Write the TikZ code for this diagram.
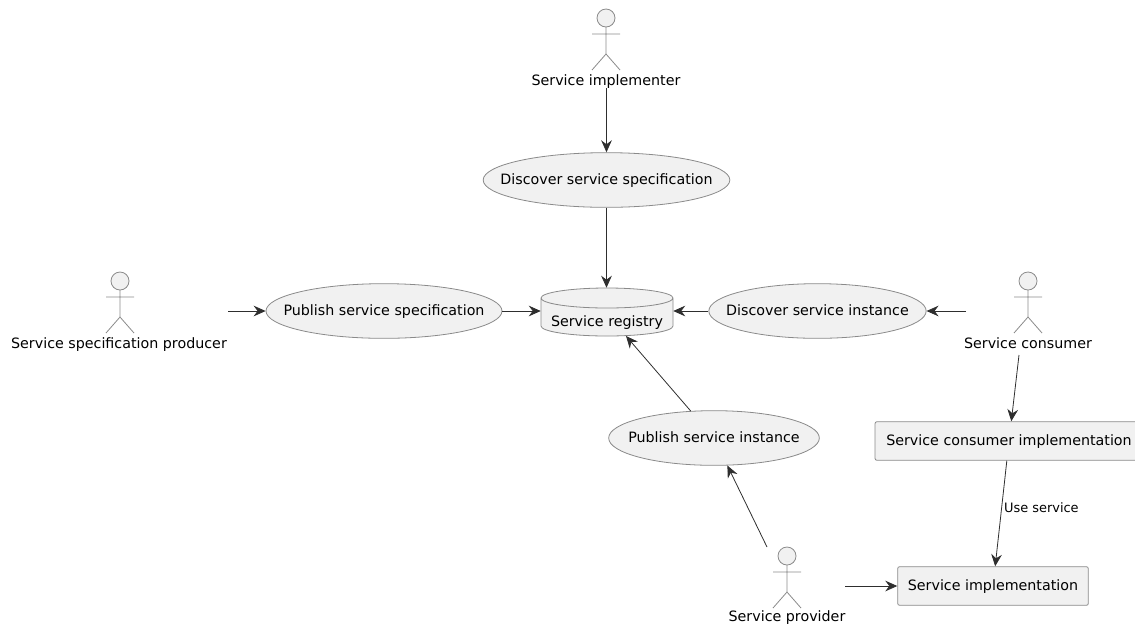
\documentclass[tikz,border=0pt]{standalone}
\usepackage{fontspec}
\setmainfont{DejaVu Sans}
\usetikzlibrary{arrows.meta,shapes.geometric}
\definecolor{boxfill}{HTML}{F1F1F1}
\definecolor{boxline}{HTML}{8A8A8A}
\definecolor{flowline}{HTML}{2E2E2E}
\newcommand{\ctext}[1]{\makebox[0pt]{#1}}
\tikzset{
    usecase/.style={
    ellipse,draw=boxline,fill=boxfill,line width=0.6pt,inner sep=0pt,minimum height=41pt,
    text=black,text height=8pt,text depth=2pt
    },
    impl/.style={
    rectangle,rounded corners=1.5pt,draw=boxline,fill=boxfill,line width=0.6pt,inner sep=0pt,
    minimum height=29pt,text height=8pt,text depth=2pt
    },
    registry/.style={
    rectangle,inner sep=0pt,minimum height=36pt,minimum width=99pt
    },
    actorname/.style={
    inner sep=0pt,text=black,text height=8pt,text depth=2pt
    },
    actorfig/.pic={
    \draw[boxline,line width=0.6pt,fill=boxfill] (0,0) circle (9);
    \draw[boxline,line width=0.6pt] (-14,16) -- (14,16) (0,9) -- (0,36) (-14,52) -- (0,36) -- (14,52);
    },
    flow/.style={
    -{Stealth[length=9pt,width=8pt,inset=3pt]},draw=flowline,line width=0.6pt
    },
}
\begin{document}
\begin{tikzpicture}[x=0.75pt,y=-0.75pt,font=\fontsize{10.7pt}{12pt}\selectfont]
   \useasboundingbox (0,0) rectangle (1135,626);
   \clip (0,0) rectangle (1135,626);
   % actors
   \pic at (606,18) {actorfig};
   \pic at (120,281) {actorfig};
   \pic at (1028,281) {actorfig};
   \pic at (787,556) {actorfig};
   \node[actorname] (implementer) at (606,81) {Service implementer};
   \node[actorname] (producer) at (119,344) {Service specification producer};
   \node[actorname] (consumer) at (1028,344) {Service consumer};
   \node[actorname] (provider) at (787,617) {Service provider};
   % use cases
   \node[usecase,minimum width=185pt] (discspec) at (606.5,180) {\ctext{Discover service specification}};
   \node[usecase,minimum width=177pt] (pubspec) at (384,311) {\ctext{Publish service specification}};
   \node[usecase,minimum width=163pt] (discinst) at (817.5,311) {\ctext{Discover service instance}};
   \node[usecase,minimum width=158pt] (pubinst) at (714,438) {\ctext{Publish service instance}};
   % registry
   \draw[boxline,line width=0.6pt,fill=boxfill] (541,298) -- (541,326) arc (180:0:66 and 10)
     -- (673,298) arc (0:-180:66 and 10) arc (180:0:66 and 10);
   \node[registry] (reg) at (607,312) {};
   \node[actorname] (regname) at (607,322) {Service registry};
   % implementations
   \node[impl,minimum width=201pt] (consimpl) at (1009,441) {Service consumer implementation};
   \node[impl,minimum width=143pt] (servimpl) at (993,586) {Service implementation};
   % free ends
   \coordinate (implout) at (606.5,88);
   \coordinate (prodout) at (228,311);
   \coordinate (consleft) at (966,311);
   \coordinate (consdown) at (1019,355);
   \coordinate (provup) at (767,547);
   \coordinate (provright) at (845,586);
   \coordinate (regbottom) at (626,336);

  \path[every edge/.append style={flow}]
    (implout) edge (discspec)
    (discspec) edge (discspec |- reg.north)
    (prodout) edge (pubspec)
    (pubspec) edge (pubspec -| reg.west)
    (discinst) edge (discinst -| reg.east)
    (consleft) edge (discinst)
    (pubinst) edge (regbottom)
    (provup) edge (pubinst)
    (consdown) edge (consimpl)
    (consimpl) edge node[right,inner sep=1.5pt,pos=0.44,font=\fontsize{9.7pt}{11pt}\selectfont,text=black] {Use service} (servimpl)
    (provright) edge (servimpl);
\end{tikzpicture}
\end{document}
